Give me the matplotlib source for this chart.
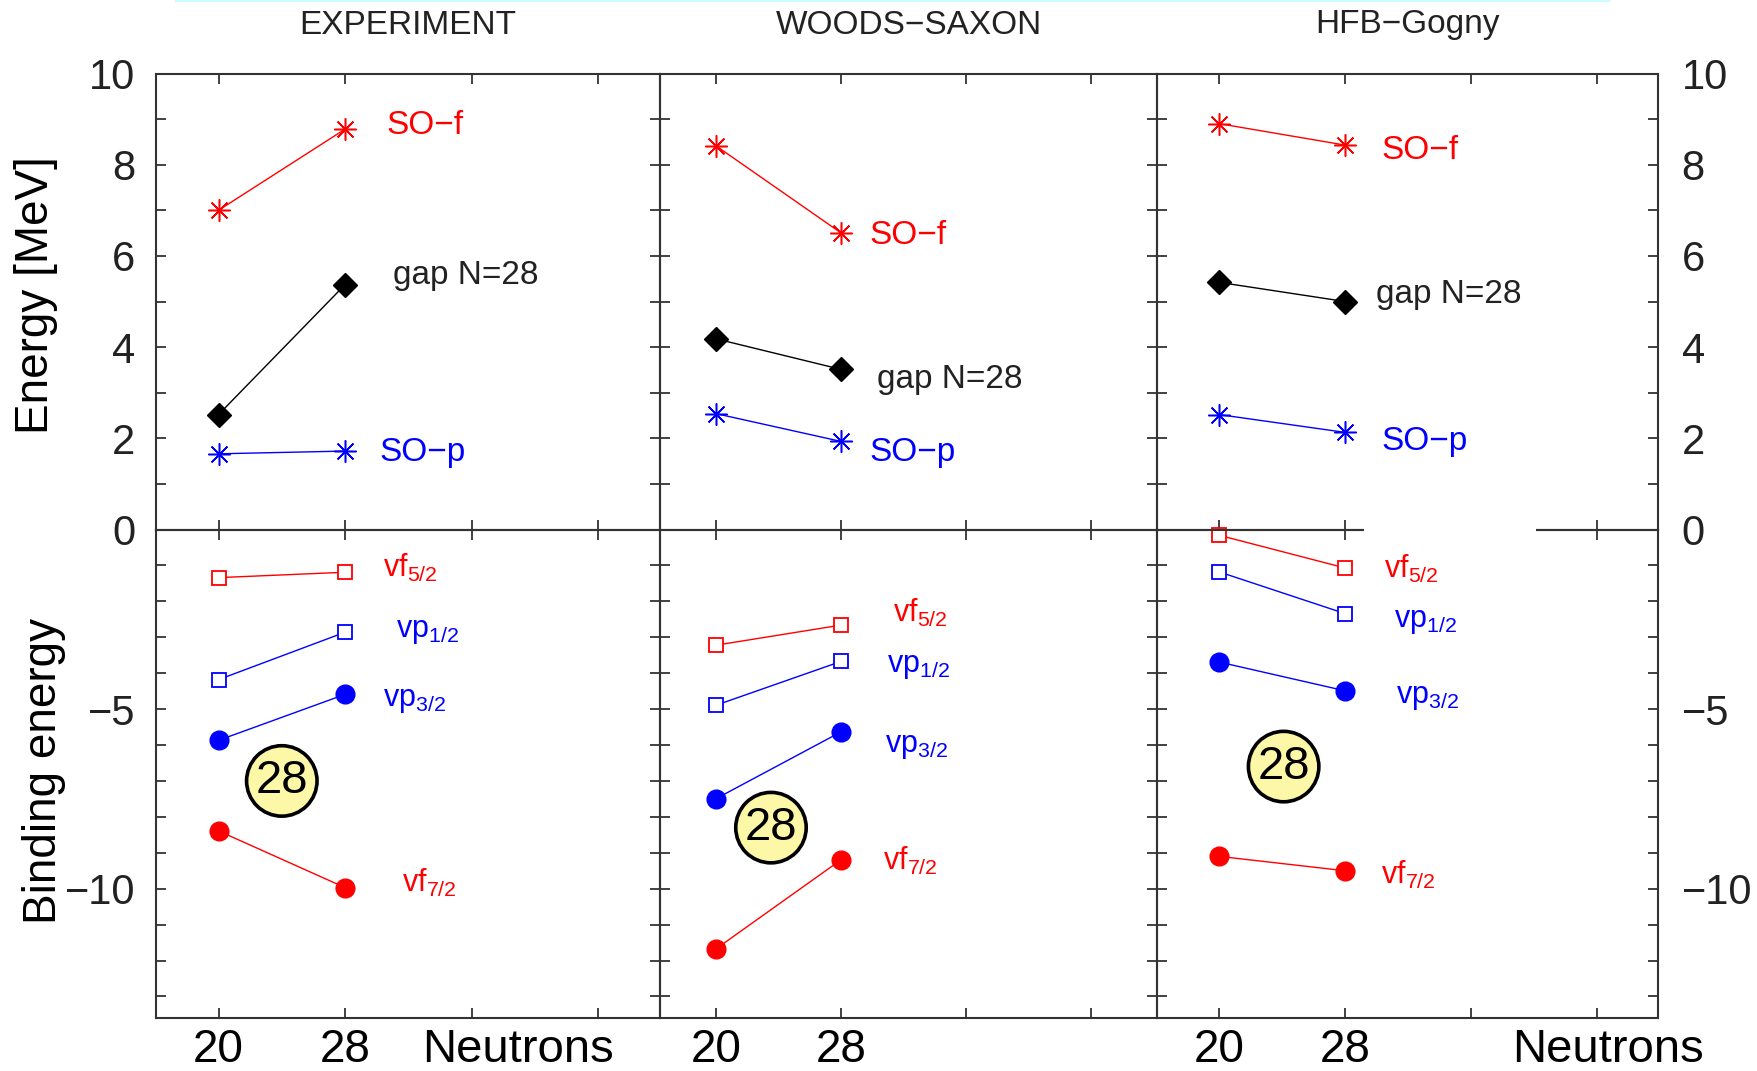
import matplotlib
matplotlib.use('Agg')
import matplotlib.pyplot as plt
from matplotlib.patches import Rectangle
from matplotlib.lines import Line2D
from matplotlib.ticker import FixedLocator, FuncFormatter
import matplotlib.transforms as mtransforms

plt.rcParams['font.family'] = ['Liberation Sans', 'DejaVu Sans']
plt.rcParams['mathtext.fontset'] = 'custom'
plt.rcParams['mathtext.rm'] = 'Liberation Sans'
plt.rcParams['mathtext.it'] = 'Liberation Sans'
plt.rcParams['mathtext.default'] = 'rm'

# ---------------- data ----------------
panels = ['EXPERIMENT', 'WOODS\u2212SAXON', 'HFB\u2212Gogny']
neutrons = [20, 28]
x_ticks = [20, 28, 36, 44]

# upper part: energies [MeV]
so_f = [[7.0, 8.78], [8.41, 6.50], [8.90, 8.43]]
gap_n28 = [[2.52, 5.37], [4.18, 3.51], [5.42, 5.00]]
so_p = [[1.66, 1.72], [2.54, 1.93], [2.52, 2.13]]

# lower part: binding energies
f52 = [[-1.34, -1.19], [-3.22, -2.66], [-0.16, -1.07]]
p12 = [[-4.18, -2.86], [-4.89, -3.67], [-1.18, -2.34]]
p32 = [[-5.87, -4.59], [-7.49, -5.63], [-3.69, -4.49]]
f72 = [[-8.39, -9.97], [-11.67, -9.19], [-9.10, -9.50]]

upper_label_names = ['SO\u2212f', 'gap N=28', 'SO\u2212p']
lower_label_names = [r'$vf_{5/2}$', r'$vp_{1/2}$', r'$vp_{3/2}$', r'$vf_{7/2}$']
magic_number = '28'

# ---------------- layout (pixels) ----------------
W, H = 1758, 1071
fig = plt.figure(figsize=(W / 100, H / 100), dpi=100)
x_edges = [156, 660, 1157, 1658]
y_top, y_mid, y_bot = 73.5, 529.5, 1018
xlims = [(16.05, 47.9), (16.4, 48.2), (16.05, 47.9)]

upper_label_pos = [[(30.6, 8.87), (31.0, 5.58), (30.2, 1.69)],
                   [(29.8, 6.45), (30.3, 3.30), (29.8, 1.69)],
                   [(30.3, 8.32), (30.0, 5.16), (30.3, 1.93)]]
lower_label_pos = [[(30.4, -1.31), (31.2, -3.00), (30.4, -4.91), (31.6, -10.1)],
                   [(31.3, -2.56), (30.9, -3.96), (30.8, -6.19), (30.7, -9.47)],
                   [(30.5, -1.34), (31.1, -2.71), (31.25, -4.82), (30.3, -9.86)]]
circle_pos = [(24.0, -7.0), (23.5, -8.3), (24.1, -6.6)]

RED, BLUE, BLACK = '#ff0000', '#0000ff', '#000000'
FRAME = '#333333'
TXT = '#222222'


def fig_rect(x0, x1, y0, y1):
    return [x0 / W, 1 - y1 / H, (x1 - x0) / W, (y1 - y0) / H]


def style_axes(ax, xl):
    ax.set_xlim(*xl)
    for s in ax.spines.values():
        s.set_color(FRAME)
        s.set_linewidth(1.5)
    ax.xaxis.set_major_locator(FixedLocator(x_ticks))
    ax.tick_params(axis='both', which='major', direction='in', length=7,
                   width=1.3, color=FRAME, top=True, bottom=True, left=True,
                   right=True, labelsize=30, labelcolor=TXT)


star = (8, 2, 0)

for i in range(3):
    x0, x1 = x_edges[i], x_edges[i + 1]
    axu = fig.add_axes(fig_rect(x0, x1, y_top, y_mid))
    axl = fig.add_axes(fig_rect(x0, x1, y_mid, y_bot))
    for ax in (axu, axl):
        style_axes(ax, xlims[i])
        ax.patch.set_alpha(0)

    # ---- upper ----
    axu.set_ylim(0, 10)
    axu.yaxis.set_major_locator(FixedLocator(range(0, 11)))
    axu.yaxis.set_major_formatter(
        FuncFormatter(lambda v, p: f'{int(round(v))}' if int(round(v)) % 2 == 0 else ''))
    axu.tick_params(labelbottom=False, labelleft=(i == 0), labelright=(i == 2))
    axu.tick_params(axis='y', pad=15 if i == 0 else 17)

    axu.plot(neutrons, so_f[i], color=RED, lw=1.0, marker=star, ms=16, mew=1.1,
             clip_on=False)
    axu.plot(neutrons, gap_n28[i], color=BLACK, lw=1.0, marker='D', ms=12,
             clip_on=False)
    axu.plot(neutrons, so_p[i], color=BLUE, lw=1.0, marker=star, ms=16, mew=1.1,
             clip_on=False)
    colors_u = [RED, '#222222', BLUE]
    for (lx, ly), name, c in zip(upper_label_pos[i], upper_label_names, colors_u):
        axu.text(lx, ly, name, color=c, fontsize=24, ha='left', va='center')

    # ---- lower ----
    axl.set_ylim(-13.6, 0)
    axl.yaxis.set_major_locator(FixedLocator(range(-13, 1)))
    axl.yaxis.set_major_formatter(
        FuncFormatter(lambda v, p: ('\u2212' + str(-int(round(v))))
                      if int(round(v)) in (-5, -10) else ''))
    axl.xaxis.set_major_formatter(FuncFormatter(
        lambda v, p: str(int(round(v))) if int(round(v)) in (20, 28) else ''))
    axl.tick_params(labelleft=(i == 0), labelright=(i == 2))
    axl.tick_params(axis='y', pad=15 if i == 0 else 17)
    axl.tick_params(axis='x', pad=7, labelsize=33, labelcolor='black')

    axl.plot(neutrons, f52[i], color=RED, lw=1.0, marker='s', ms=10.5,
             mfc='white', mew=1.3, clip_on=False)
    axl.plot(neutrons, p12[i], color=BLUE, lw=1.0, marker='s', ms=10.5,
             mfc='white', mew=1.3, clip_on=False)
    axl.plot(neutrons, p32[i], color=BLUE, lw=1.0, marker='o', ms=13.5,
             clip_on=False)
    axl.plot(neutrons, f72[i], color=RED, lw=1.0, marker='o', ms=13.5,
             clip_on=False)
    colors_l = [RED, BLUE, BLUE, RED]
    for (lx, ly), name, c in zip(lower_label_pos[i], lower_label_names, colors_l):
        axl.text(lx, ly, name, color=c, fontsize=22, ha='left', va='baseline')

    cx, cy = circle_pos[i]
    axl.text(cx, cy, magic_number, fontsize=34, ha='center', va='center',
             color='black', zorder=5,
             bbox=dict(boxstyle='circle,pad=0.19', fc='#fcf8a8', ec='black', lw=2.6))

    # titles
    fig.text(((x0 + x1) / 2) / W, 1 - 25 / H, panels[i], fontsize=24,
             ha='center', va='center', color=TXT)

    if i in (0, 2):
        trans = mtransforms.blended_transform_factory(axl.transData, axl.transAxes)
        nx = 38.9 if i == 0 else 44.7
        axl.text(nx, -0.066, 'Neutrons', transform=trans, fontsize=34,
                 ha='center', va='center', color='black', clip_on=False)

# axis titles
fig.text(36.5 / W, 1 - 295 / H, 'Energy [MeV]', rotation=90, fontsize=33,
         ha='center', va='center', color='black')
fig.text(44.5 / W, 1 - 771 / H, 'Binding energy', rotation=90, fontsize=33,
         ha='center', va='center', color='black')

# gap in the zero line of the last panel
fig.add_artist(Rectangle((1364 / W, 1 - 542 / H), (1536 - 1364) / W, 24 / H,
                         transform=fig.transFigure, facecolor='white',
                         edgecolor='none', zorder=10))
# faint cyan line at the very top
fig.add_artist(Line2D([176 / W, 1609 / W], [1 - 1 / H, 1 - 1 / H],
                      transform=fig.transFigure, color='#cdfcfc', lw=1.5))

fig.savefig('out.png', dpi=100)
